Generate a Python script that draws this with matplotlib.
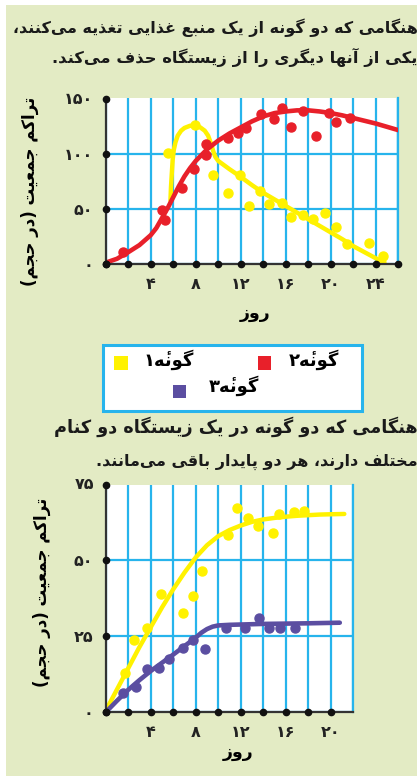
import matplotlib.pyplot as plt
from matplotlib.patches import Rectangle

# ---- data ----
# chart 1: two species sharing one food source
red_pts_x = [1.5, 4.96, 5.25, 6.75, 7.85, 8.9, 8.9, 10.85, 11.8, 12.5, 13.8, 14.97, 15.7, 16.5, 17.5, 18.7, 19.8, 20.5, 21.7]
red_pts_y = [11, 49.4, 40.3, 69, 86.4, 99.4, 109.1, 115, 119.6, 124.4, 137, 132, 142.5, 125, 139.2, 116.7, 138, 129.5, 133]
red_curve_x = [0, 1, 2, 3, 4, 4.5, 5, 5.5, 6, 6.5, 7, 7.5, 8, 9, 10, 11, 12, 13, 14, 15, 16, 17, 18, 19, 20, 21, 22, 23, 24, 25, 26]
red_curve_y = [1.5, 5, 11, 17.5, 26.5, 33, 42, 51, 61, 71, 80, 87.5, 94, 104.5, 112.5, 119, 124.5, 130, 134.5, 137.5, 139, 140, 140, 139, 137.5, 135.5, 133, 130.5, 128, 125, 122]

yel1_pts_x = [5.55, 7.95, 9.55, 10.85, 11.95, 12.7, 13.7, 14.55, 15.7, 16.5, 17.5, 18.4, 19.45, 20.5, 21.4, 23.4, 24.6]
yel1_pts_y = [101.5, 126.5, 81.5, 65, 81.6, 52.7, 66.8, 54.5, 55.3, 43, 44.5, 41, 46.6, 34, 18.2, 19.6, 7.3]
yel1_curve_x = [5.75, 5.8, 5.87, 5.95, 6.05, 6.2, 6.4, 6.7, 7.0, 7.5, 8.0, 8.4, 8.8, 9.1, 9.35, 9.55, 9.75, 10.0, 10.4, 11, 12, 13, 14, 15, 16, 17, 18, 19, 20, 21, 22, 23, 24, 24.9]
yel1_curve_y = [57, 70, 82, 95, 104, 111, 117, 121.5, 124, 126, 126, 124.5, 121.5, 117, 110, 103, 97.5, 94, 91, 86.5, 79.5, 72, 65, 59, 53, 47, 41, 35, 29, 23, 16.5, 11, 5.5, 0.5]

# chart 2: two species with different niches
yel2_pts_x = [1.7, 2.48, 3.66, 4.95, 6.85, 7.8, 8.57, 10.9, 11.65, 12.63, 13.55, 14.84, 15.43, 16.7, 17.64]
yel2_pts_y = [12.9, 23.8, 27.9, 38.8, 32.7, 38.2, 46.5, 58.5, 67.3, 63.9, 61.2, 59.1, 65.2, 66.1, 66.3]
yel2_curve_x = [0, 1, 2, 3, 4, 5, 6, 7, 8, 9, 10, 11, 12, 13, 14, 15, 16, 17, 18, 19, 20, 21.2]
yel2_curve_y = [0.5, 7.5, 14.5, 21.5, 28, 34.5, 40.5, 46, 51, 55, 58, 60, 61.5, 62.7, 63.5, 64, 64.4, 64.7, 64.9, 65.1, 65.2, 65.3]

pur_pts_x = [1.5, 2.7, 3.7, 4.77, 5.63, 6.9, 7.77, 8.82, 10.68, 12.38, 13.62, 14.55, 15.5, 16.78]
pur_pts_y = [6.3, 8.3, 14.3, 14.5, 17.6, 21.3, 23.7, 20.8, 27.7, 27.6, 31.0, 27.7, 27.8, 27.7]
pur_curve_x = [0, 1, 2, 3, 4, 5, 6, 7, 8, 8.5, 9, 9.5, 10, 11, 12, 14, 16, 18, 20.8]
pur_curve_y = [0, 3.8, 7.4, 10.6, 13.6, 16.3, 19, 21.8, 24.6, 26.2, 27.4, 28.2, 28.6, 28.8, 28.9, 29.1, 29.2, 29.3, 29.5]

x1_ticks = list(range(0, 27, 2))
x1_labels = ['', '', '۴', '', '۸', '', '۱۲', '', '۱۶', '', '۲۰', '', '۲۴', '']
y1_ticks = [0, 50, 100, 150]
y1_labels = ['۰', '۵۰', '۱۰۰', '۱۵۰']
x2_ticks = list(range(0, 21, 2))
x2_labels = ['', '', '۴', '', '۸', '', '۱۲', '', '۱۶', '', '۲۰']
y2_ticks = [0, 25, 50, 75]
y2_labels = ['۰', '۲۵', '۵۰', '۷۵']

title1 = ['هنگامی که دو گونه از یک منبع غذایی تغذیه می\u200cکنند،',
          'یکی از آنها دیگری را از زیستگاه حذف می\u200cکند.']
title2 = ['هنگامی که دو گونه در یک زیستگاه دو کنام',
          'مختلف دارند، هر دو پایدار باقی می\u200cمانند.']
ylabel = 'تراکم جمعیت (در حجم)'
xlabel = 'روز'
legend_names = ['گونهٔ۱', 'گونهٔ۲', 'گونهٔ۳']

# ---- minimal Persian shaping (matplotlib has no RTL / joining support) ----
FORMS = {
    'ا': (0xFE8D, 0xFE8E, None, None), 'آ': (0xFE81, 0xFE82, None, None),
    'ب': (0xFE8F, 0xFE90, 0xFE91, 0xFE92), 'پ': (0xFB56, 0xFB57, 0xFB58, 0xFB59),
    'ت': (0xFE95, 0xFE96, 0xFE97, 0xFE98), 'ج': (0xFE9D, 0xFE9E, 0xFE9F, 0xFEA0),
    'ح': (0xFEA1, 0xFEA2, 0xFEA3, 0xFEA4), 'خ': (0xFEA5, 0xFEA6, 0xFEA7, 0xFEA8),
    'د': (0xFEA9, 0xFEAA, None, None), 'ذ': (0xFEAB, 0xFEAC, None, None),
    'ر': (0xFEAD, 0xFEAE, None, None), 'ز': (0xFEAF, 0xFEB0, None, None),
    'س': (0xFEB1, 0xFEB2, 0xFEB3, 0xFEB4), 'ع': (0xFEC9, 0xFECA, 0xFECB, 0xFECC),
    'غ': (0xFECD, 0xFECE, 0xFECF, 0xFED0), 'ف': (0xFED1, 0xFED2, 0xFED3, 0xFED4),
    'ق': (0xFED5, 0xFED6, 0xFED7, 0xFED8), 'ک': (0xFB8E, 0xFB8F, 0xFB90, 0xFB91),
    'گ': (0xFB92, 0xFB93, 0xFB94, 0xFB95), 'ل': (0xFEDD, 0xFEDE, 0xFEDF, 0xFEE0),
    'م': (0xFEE1, 0xFEE2, 0xFEE3, 0xFEE4), 'ن': (0xFEE5, 0xFEE6, 0xFEE7, 0xFEE8),
    'ه': (0xFEE9, 0xFEEA, 0xFEEB, 0xFEEC), 'و': (0xFEED, 0xFEEE, None, None),
    'ی': (0xFBFC, 0xFBFD, 0xFBFE, 0xFBFF),
}
MARKS = '\u0654'


def fa(text):
    clusters = []
    for i, ch in enumerate(text):
        if ch in MARKS and clusters:
            clusters[-1] += ch
            continue
        if ch == '\u200c':
            clusters.append('')
            continue
        if ch not in FORMS:
            clusters.append(ch)
            continue
        iso, fin, ini, med = FORMS[ch]
        j = i - 1
        while j >= 0 and text[j] in MARKS:
            j -= 1
        k = i + 1
        while k < len(text) and text[k] in MARKS:
            k += 1
        prev = text[j] if j >= 0 else ''
        nxt = text[k] if k < len(text) else ''
        jp = prev in FORMS and FORMS[prev][2] is not None
        jn = ini is not None and nxt in FORMS
        code = med if (jp and jn) else fin if jp else ini if jn else iso
        clusters.append(chr(code))
    s = ''.join(clusters[::-1])
    return s.translate(str.maketrans('()', ')('))


# ---- colours ----
BG = '#e3ebc4'
GRID = '#27b4ec'
AXIS = '#333333'
RED = '#e8202a'
YEL = '#fff200'
PUR = '#5b4ea1'

W, H = 417, 776
fig = plt.figure(figsize=(W / 100, H / 100), dpi=100)
fig.patch.set_facecolor('white')
fig.patches.append(Rectangle((6 / W, 0), 1, 1 - 5 / H, transform=fig.transFigure,
                             facecolor=BG, edgecolor='none', zorder=-10))


def fx(x):
    return x / W


def fy(y):
    return 1 - y / H


FONT = dict(family='DejaVu Sans', weight='bold')


def setup(ax, xmax, ymax, xt, xl, yt, yl):
    ax.set_facecolor('white')
    ax.set_xlim(0, xmax)
    ax.set_ylim(0, ymax)
    ax.set_xticks(xt + [xmax], labels=xl + [''])
    ax.set_yticks(yt[:-1], labels=yl[:-1])
    ax.grid(True, color=GRID, lw=1.6, zorder=0)
    ax.set_axisbelow(True)
    ax.tick_params(length=0, pad=9, labelsize=11.5, colors='#222222')
    for lab in ax.get_xticklabels() + ax.get_yticklabels():
        lab.set_fontweight('bold')
    ax.spines['top'].set_visible(False)
    ax.spines['right'].set_color(GRID)
    ax.spines['right'].set_linewidth(1.6)
    for s in ('left', 'bottom'):
        ax.spines[s].set_color(AXIS)
        ax.spines[s].set_linewidth(1.6)
        ax.spines[s].set_zorder(4)
    ax.plot(xt, [0] * len(xt), 'o', color='#111111', ms=4.5, clip_on=False, zorder=6)
    ax.plot([0] * len(yt), yt, 'o', color='#111111', ms=4.5, clip_on=False, zorder=6)
    # top y label placed by hand (sits on the frame edge)
    ax.text(-0.045, yt[-1], yl[-1], transform=ax.get_yaxis_transform(), ha='right',
            va='center', fontsize=11.5, color='#222222', **FONT)


# chart 1
ax1 = fig.add_axes([fx(105.7), fy(264.3), (398.3 - 105.7) / W, (264.3 - 97.7) / H])
setup(ax1, 26, 151.5, x1_ticks, x1_labels, y1_ticks, y1_labels)
ax1.plot(yel1_curve_x, yel1_curve_y, color=YEL, lw=3.2, solid_capstyle='butt', zorder=2)
ax1.plot(red_curve_x, red_curve_y, color=RED, lw=3.3, solid_capstyle='round', zorder=3)
ax1.plot(yel1_pts_x, yel1_pts_y, 'o', color=YEL, ms=6.5, zorder=3)
ax1.plot(red_pts_x, red_pts_y, 'o', color=RED, ms=6.5, zorder=4)

# chart 2
ax2 = fig.add_axes([fx(105.7), fy(712.3), (353.3 - 105.7) / W, (712.3 - 484.5) / H])
setup(ax2, 22, 75, x2_ticks, x2_labels, y2_ticks, y2_labels)
ax2.plot(yel2_curve_x, yel2_curve_y, color=YEL, lw=3.2, solid_capstyle='round', zorder=2)
ax2.plot(pur_curve_x, pur_curve_y, color=PUR, lw=3.3, solid_capstyle='round', zorder=3)
ax2.plot(yel2_pts_x, yel2_pts_y, 'o', color=YEL, ms=6.5, zorder=3)
ax2.plot(pur_pts_x, pur_pts_y, 'o', color=PUR, ms=6.5, zorder=4)

# axis titles
fig.text(fx(30), fy(191), fa(ylabel), rotation=90, ha='center', va='center', fontsize=12, **FONT)
fig.text(fx(42), fy(592), fa(ylabel), rotation=90, ha='center', va='center', fontsize=12, **FONT)
fig.text(fx(255), fy(313), fa(xlabel), ha='center', va='center', fontsize=12.5, **FONT)
fig.text(fx(238), fy(752), fa(xlabel), ha='center', va='center', fontsize=12.5, **FONT)

# paragraph text, right side just reaches the crop; size each line to the reference's left edge
renderer = fig.canvas.get_renderer()
RIGHT = 418
for txt, y, left in zip(title1 + title2, [28, 57, 427, 462], [13, 53, 53, 108]):
    t = fig.text(fx(RIGHT), fy(y), fa(txt), ha='right', va='center', fontsize=12.5,
                 color='#1a1a1a', **FONT)
    w = t.get_window_extent(renderer).width
    fs = 12.5 * (RIGHT - left) / w
    t.set_fontsize(min(max(fs, 11.5), 13.5))

# legend box
fig.patches.append(Rectangle((fx(103), fy(411)), (362 - 103) / W, (411 - 345) / H,
                             transform=fig.transFigure, facecolor='white', edgecolor=GRID,
                             lw=2.2, zorder=1))
sq_w, sq_h = 13 / W, 13 / H
for (cx, cy), col in zip([(121, 363), (264, 363), (179, 391)], [YEL, RED, PUR]):
    fig.patches.append(Rectangle((fx(cx) - sq_w / 2, fy(cy) - sq_h / 2), sq_w, sq_h,
                                 transform=fig.transFigure, facecolor=col, edgecolor='none', zorder=2))
for name, (rx, cy) in zip(legend_names, [(194, 360), (339, 360), (259, 386)]):
    fig.text(fx(rx), fy(cy), fa(name), ha='right', va='center', fontsize=13, zorder=3, **FONT)

fig.savefig('out.png', dpi=100, facecolor=fig.get_facecolor())
